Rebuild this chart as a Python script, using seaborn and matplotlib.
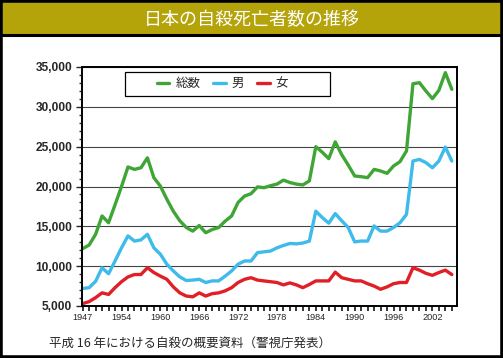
import numpy as np
import pandas as pd
import matplotlib
matplotlib.use('Agg')
import matplotlib.pyplot as plt
from matplotlib.patches import Rectangle
from matplotlib.lines import Line2D
from matplotlib.ticker import MultipleLocator, FuncFormatter
import seaborn as sns

# ── Data ──────────────────────────────────────────────────────────
years = list(range(1947, 2005))

total = [12200, 12650, 14000, 16300, 15450, 17700, 20000, 22450, 22150, 22350,
         23600, 21100, 20050, 18400, 16900, 15700, 14850, 14400, 15100, 14200,
         14600, 14850, 15650, 16300, 18000, 18800, 19100, 19950, 19850, 20100,
         20300, 20800, 20500, 20300, 20200, 20700, 25000, 24300, 23500, 25600,
         24000, 22700, 21320, 21230, 21110, 22150, 21950, 21650, 22570, 23120,
         24460, 32900, 33030, 31990, 31030, 32070, 34290, 32200]

male = [7200, 7300, 8100, 9800, 9050, 10650, 12300, 13800, 13150, 13300,
        14000, 12300, 11500, 10250, 9400, 8650, 8200, 8250, 8350, 7950,
        8150, 8150, 8750, 9400, 10250, 10650, 10650, 11700, 11800, 11900,
        12300, 12600, 12850, 12800, 12900, 13150, 16900, 16100, 15400, 16600,
        15700, 14850, 13050, 13150, 13150, 15050, 14400, 14400, 14850, 15450,
        16500, 23200, 23400, 23000, 22350, 23200, 24950, 23200]

female = [5300, 5550, 6050, 6650, 6450, 7300, 8050, 8650, 8950, 8950,
          9800, 9200, 8750, 8350, 7400, 6650, 6250, 6150, 6650, 6250,
          6550, 6650, 6900, 7300, 7950, 8350, 8550, 8250, 8150, 8050,
          7950, 7650, 7900, 7650, 7300, 7700, 8150, 8150, 8150, 9250,
          8550, 8350, 8150, 8150, 7800, 7500, 7100, 7400, 7800, 7950,
          7950, 9800, 9500, 9100, 8850, 9200, 9500, 8950]

series_names = ['総数', '男', '女']
series_colors = ['#3fa535', '#3ebbea', '#e01f26']

# tick labels as printed on the original axis
tick_pos = list(range(1947, 2005, 6))
tick_labels = ['1947', '1954', '1960', '1966', '1972', '1978',
               '1984', '1990', '1996', '2002']

title = '日本の自殺死亡者数の推移'
source = '平成 16 年における自殺の概要資料（警視庁発表）'

df = pd.concat([
    pd.DataFrame({'year': years, 'count': vals, 'series': name})
    for name, vals in zip(series_names, [total, male, female])
])

# ── Style ─────────────────────────────────────────────────────────
sns.set_style('ticks')
plt.rcParams['font.family'] = ['Noto Sans CJK JP', 'DejaVu Sans']

W, H = 503, 358
fig = plt.figure(figsize=(W / 100, H / 100), dpi=100)
fig.patch.set_facecolor('white')

# title bar + outer frame
bar_h = 35
fig.add_artist(Rectangle((0, 1 - bar_h / H), 1, bar_h / H,
                         transform=fig.transFigure, fc='#b5a30a', ec='none'))
fig.add_artist(Line2D([0, 1], [1 - bar_h / H] * 2, transform=fig.transFigure,
                      color='black', lw=2.2))
fig.add_artist(Rectangle((0, 0), 1, 1, transform=fig.transFigure,
                         fill=False, ec='black', lw=4))
fig.text(0.5, 1 - 20 / H, title, ha='center', va='center',
         color='white', fontsize=13)

# ── Plot ──────────────────────────────────────────────────────────
ax = fig.add_axes([82 / W, 52 / H, 375 / W, 239 / H])
sns.lineplot(data=df, x='year', y='count', hue='series',
             hue_order=series_names, palette=series_colors,
             linewidth=2.4, ax=ax)

ax.set_xlim(1946.9, 2004.8)
ax.set_ylim(5000, 35000)
ax.set_xlabel('')
ax.set_ylabel('')

ax.yaxis.set_major_locator(MultipleLocator(5000))
ax.yaxis.set_minor_locator(MultipleLocator(1000))
ax.yaxis.set_major_formatter(FuncFormatter(lambda v, p: f'{int(v):,}'))
ax.set_xticks(tick_pos)
ax.set_xticklabels(tick_labels)
ax.xaxis.set_minor_locator(MultipleLocator(1))

ax.yaxis.grid(True, color='#444444', lw=0.8)
ax.set_axisbelow(True)
for s in ax.spines.values():
    s.set_visible(True)
    s.set_color('black')
    s.set_linewidth(1.4)

ax.tick_params(axis='y', which='major', direction='out', length=4, width=1,
               labelsize=8.6, pad=3)
ax.tick_params(axis='y', which='minor', direction='out', length=2.5, width=1)
ax.tick_params(axis='x', which='both', direction='out', length=3.5, width=1.3,
               labelsize=6.6, pad=1.5)
for t in ax.get_yticklabels():
    t.set_fontweight('bold')
    t.set_family(['Liberation Sans', 'DejaVu Sans'])
for t in ax.get_xticklabels():
    t.set_family(['Liberation Sans', 'DejaVu Sans'])

# legend: entries without frame, box drawn separately (wider than content)
sns.move_legend(ax, 'center', bbox_to_anchor=(0.375, 0.93),
                ncol=3, title=None, frameon=False,
                fontsize=9, handlelength=1.0, handletextpad=0.5,
                columnspacing=1.0, borderaxespad=0, borderpad=0)
ax.add_patch(Rectangle((0.115, 0.88), 0.546, 0.10, transform=ax.transAxes,
                       fill=True, fc='white', ec='black', lw=0.9, zorder=4))
ax.get_legend().set_zorder(5)

fig.text(49 / W, 1 - 343 / H, source, ha='left', va='center', fontsize=9)

fig.savefig('out.png', dpi=100)
